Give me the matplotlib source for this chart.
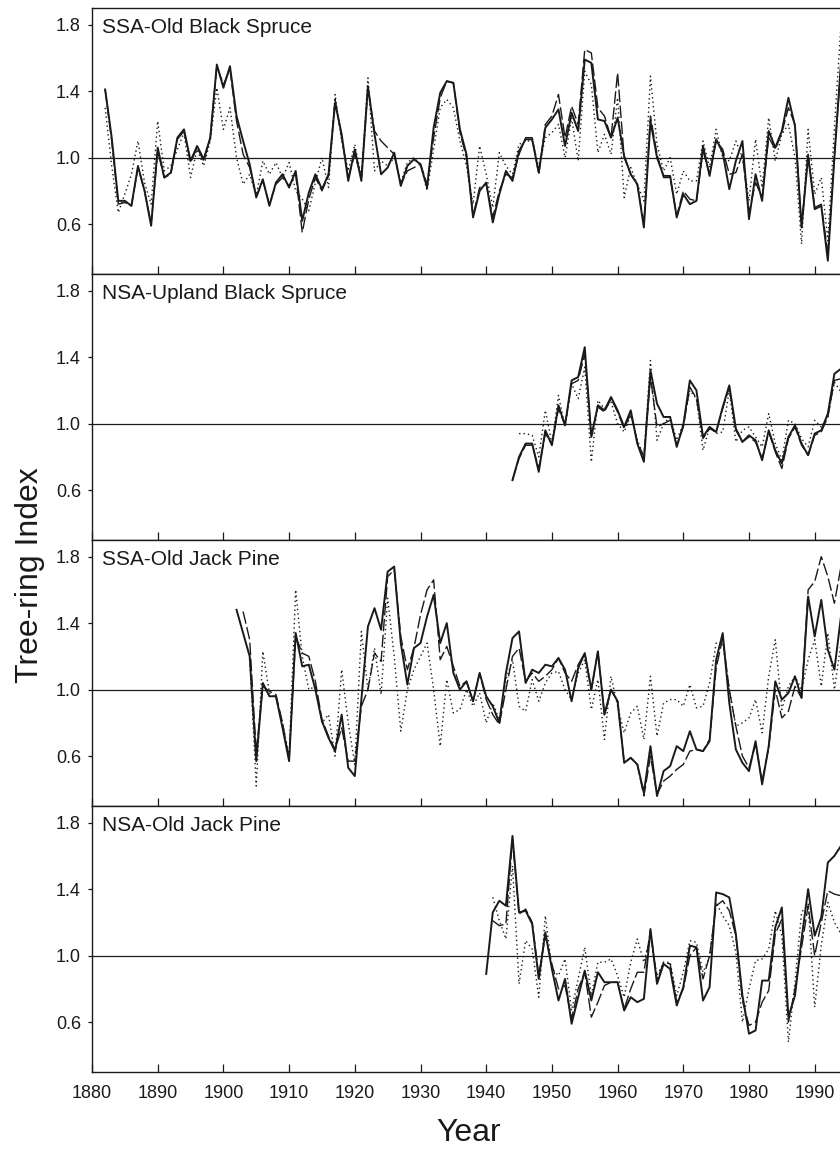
import matplotlib
matplotlib.use("Agg")
import matplotlib.pyplot as plt
import numpy as np

plt.rcParams['font.family'] = ['Liberation Sans', 'DejaVu Sans']

# ---- data (tree-ring index per year) ----
names = ["SSA-Old Black Spruce", "NSA-Upland Black Spruce",
         "SSA-Old Jack Pine", "NSA-Old Jack Pine"]

# SSA-Old Black Spruce, 1882-1994
ssa_obs_start = 1882
ssa_obs_solid = [1.41, 1.12, 0.74, 0.74, 0.71, 0.95, 0.80, 0.59, 1.06, 0.88,
                 0.91, 1.12, 1.17, 0.98, 1.07, 0.99, 1.12, 1.56, 1.42, 1.55,
                 1.25, 1.10, 0.96, 0.76, 0.87, 0.71, 0.85, 0.90, 0.82, 0.92,
                 0.62, 0.79, 0.90, 0.81, 0.90, 1.33, 1.14, 0.86, 1.05, 0.86,
                 1.43, 1.14, 0.90, 0.94, 1.03, 0.83, 0.95, 0.99, 0.96, 0.82,
                 1.18, 1.39, 1.46, 1.45, 1.17, 1.02, 0.64, 0.80, 0.85, 0.61,
                 0.78, 0.92, 0.86, 1.04, 1.11, 1.11, 0.91, 1.18, 1.23, 1.29,
                 1.07, 1.27, 1.16, 1.59, 1.57, 1.23, 1.22, 1.12, 1.24, 1.01,
                 0.90, 0.84, 0.58, 1.22, 1.00, 0.89, 0.89, 0.64, 0.78, 0.72,
                 0.74, 1.07, 0.89, 1.11, 1.03, 0.81, 0.98, 1.10, 0.63, 0.90,
                 0.74, 1.16, 1.06, 1.16, 1.36, 1.19, 0.58, 1.01, 0.69, 0.71,
                 0.38, 1.00, 1.57]
ssa_obs_dash = [1.41, 1.10, 0.72, 0.73, 0.71, 0.94, 0.80, 0.60, 1.04, 0.88,
                0.90, 1.11, 1.16, 0.97, 1.06, 0.98, 1.12, 1.55, 1.44, 1.53,
                1.22, 1.02, 0.94, 0.77, 0.86, 0.72, 0.84, 0.88, 0.83, 0.90,
                0.55, 0.75, 0.88, 0.80, 0.89, 1.35, 1.12, 0.88, 1.02, 0.88,
                1.42, 1.16, 1.10, 1.06, 1.02, 0.84, 0.92, 0.94, 0.96, 0.84,
                1.12, 1.36, 1.46, 1.45, 1.15, 1.00, 0.65, 0.82, 0.84, 0.64,
                0.80, 0.90, 0.88, 1.02, 1.12, 1.12, 0.90, 1.20, 1.25, 1.38,
                1.12, 1.31, 1.20, 1.65, 1.63, 1.30, 1.25, 1.12, 1.51, 1.00,
                0.90, 0.84, 0.60, 1.25, 1.02, 0.88, 0.88, 0.65, 0.80, 0.75,
                0.74, 1.04, 0.90, 1.10, 1.05, 0.90, 0.91, 1.02, 0.67, 0.85,
                0.76, 1.12, 1.05, 1.15, 1.30, 1.20, 0.58, 1.02, 0.70, 0.72,
                0.42, 1.02, 1.55]
ssa_obs_dot = [1.30, 0.95, 0.67, 0.78, 0.90, 1.10, 0.85, 0.72, 1.22, 0.92,
               0.95, 1.05, 1.15, 0.88, 1.05, 0.95, 1.10, 1.42, 1.17, 1.30,
               1.00, 0.84, 0.90, 0.77, 0.98, 0.90, 0.97, 0.88, 0.97, 0.80,
               0.75, 0.68, 0.85, 1.00, 0.82, 1.38, 1.10, 0.92, 1.08, 0.88,
               1.48, 0.92, 0.98, 0.95, 1.00, 0.85, 0.97, 1.00, 0.96, 0.80,
               1.05, 1.30, 1.35, 1.30, 1.10, 0.95, 0.72, 1.07, 0.90, 0.70,
               1.03, 0.95, 0.90, 1.08, 1.10, 1.10, 0.94, 1.12, 1.15, 1.20,
               1.00, 1.24, 0.98, 1.52, 1.44, 1.03, 1.14, 1.02, 1.36, 0.76,
               0.94, 0.84, 0.74, 1.49, 1.08, 0.92, 1.00, 0.78, 0.92, 0.86,
               0.86, 1.10, 0.94, 1.17, 1.00, 0.98, 1.10, 1.00, 0.74, 1.11,
               0.82, 1.24, 0.98, 1.14, 1.20, 1.00, 0.48, 1.17, 0.78, 0.88,
               0.50, 1.18, 1.80]

# NSA-Upland Black Spruce, 1944-1994
nsa_ubs_start = 1944
nsa_ubs_solid = [0.66, 0.80, 0.88, 0.88, 0.71, 0.96, 0.87, 1.11, 0.99, 1.26,
                 1.28, 1.46, 0.92, 1.11, 1.08, 1.16, 1.08, 0.98, 1.08, 0.88,
                 0.77, 1.32, 1.12, 1.04, 1.04, 0.86, 0.99, 1.26, 1.20, 0.92,
                 0.98, 0.95, 1.10, 1.23, 0.97, 0.89, 0.93, 0.90, 0.78, 0.96,
                 0.84, 0.76, 0.92, 0.99, 0.88, 0.81, 0.94, 0.96, 1.06, 1.30,
                 1.33]
nsa_ubs_dash = [0.66, 0.79, 0.87, 0.87, 0.73, 0.94, 0.88, 1.09, 0.99, 1.24,
                1.26, 1.42, 0.93, 1.10, 1.07, 1.15, 1.07, 0.97, 1.06, 0.89,
                0.80, 1.28, 0.98, 1.00, 1.02, 0.87, 0.98, 1.22, 1.15, 0.91,
                0.97, 0.95, 1.09, 1.22, 0.96, 0.89, 0.92, 0.89, 0.79, 0.95,
                0.83, 0.73, 0.91, 0.98, 0.87, 0.81, 0.93, 0.95, 1.04, 1.26,
                1.27]
nsa_ubs_dot = [None, 0.94, 0.94, 0.93, 0.80, 1.08, 0.88, 1.17, 0.98, 1.24,
               1.15, 1.34, 0.77, 1.14, 1.09, 1.13, 1.00, 0.95, 1.05, 0.90,
               0.80, 1.38, 0.90, 1.00, 1.04, 0.90, 1.00, 1.20, 1.15, 0.84,
               0.98, 0.94, 0.95, 1.20, 0.89, 0.96, 0.98, 0.92, 0.86, 1.06,
               0.88, 0.78, 1.02, 1.00, 0.91, 0.86, 1.02, 0.98, 1.04, 1.25,
               1.19]

# SSA-Old Jack Pine, 1902-1994
ssa_ojp_start = 1902
ssa_ojp_solid = [1.48, 1.34, 1.20, 0.57, 1.04, 0.96, 0.96, 0.77, 0.57, 1.34,
                 1.14, 1.15, 1.00, 0.81, 0.71, 0.63, 0.85, 0.53, 0.48, 0.94,
                 1.38, 1.49, 1.36, 1.71, 1.74, 1.28, 1.03, 1.25, 1.28, 1.44,
                 1.57, 1.28, 1.40, 1.10, 1.00, 1.05, 0.93, 1.10, 0.96, 0.90,
                 0.80, 1.10, 1.31, 1.35, 1.04, 1.12, 1.10, 1.15, 1.14, 1.19,
                 1.12, 0.93, 1.13, 1.22, 1.00, 1.23, 0.85, 1.00, 0.93, 0.56,
                 0.59, 0.55, 0.38, 0.66, 0.36, 0.51, 0.54, 0.66, 0.63, 0.75,
                 0.64, 0.63, 0.69, 1.18, 1.34, 0.92, 0.64, 0.56, 0.51, 0.69,
                 0.43, 0.66, 1.05, 0.94, 0.98, 1.08, 0.95, 1.56, 1.32, 1.54,
                 1.24, 1.12, 1.44]
ssa_ojp_dash = [None, 1.47, 1.30, 0.62, 1.02, 0.99, 0.97, 0.80, 0.58, 1.32,
                1.22, 1.20, 1.05, 0.82, 0.72, 0.64, 0.77, 0.57, 0.57, 0.90,
                1.00, 1.22, 1.17, 1.68, 1.72, 1.32, 1.12, 1.25, 1.45, 1.60,
                1.66, 1.18, 1.26, 1.14, 1.02, 1.05, 0.93, 1.10, 0.94, 0.85,
                0.79, 1.00, 1.20, 1.25, 1.05, 1.10, 1.05, 1.08, 1.12, 1.19,
                1.10, 1.05, 1.15, 1.22, 1.00, 1.23, 0.85, 1.00, 0.93, 0.56,
                0.59, 0.55, 0.36, 0.60, 0.37, 0.45, 0.48, 0.52, 0.55, 0.63,
                0.64, 0.63, 0.70, 1.13, 1.31, 1.00, 0.78, 0.60, 0.53, 0.67,
                0.45, 0.65, 1.00, 0.83, 0.87, 1.02, 0.95, 1.60, 1.65, 1.80,
                1.68, 1.52, 1.74]
ssa_ojp_dot = [None, None, 1.20, 0.42, 1.23, 0.98, 0.95, 0.80, 0.60, 1.60,
               1.20, 1.00, 1.02, 0.80, 0.85, 0.60, 1.12, 0.80, 0.55, 1.35,
               1.00, 1.25, 0.97, 1.55, 1.20, 0.75, 1.00, 1.12, 1.20, 1.28,
               1.00, 0.66, 1.06, 0.86, 0.88, 1.00, 0.90, 0.98, 0.80, 0.92,
               0.82, 1.06, 1.18, 0.90, 0.87, 1.06, 0.93, 1.04, 1.10, 1.11,
               1.00, 0.94, 1.10, 1.18, 0.88, 1.06, 0.70, 1.08, 0.90, 0.74,
               0.86, 0.90, 0.70, 1.08, 0.72, 0.92, 0.94, 0.94, 0.90, 1.03,
               0.89, 0.90, 1.04, 1.28, 1.28, 1.00, 0.78, 0.80, 0.83, 0.94,
               0.74, 1.08, 1.30, 0.88, 1.02, 1.08, 1.00, 1.18, 1.30, 1.02,
               1.34, 1.00, 1.28]

# NSA-Old Jack Pine, 1940-1994
nsa_ojp_start = 1940
nsa_ojp_solid = [0.89, 1.26, 1.33, 1.30, 1.72, 1.26, 1.27, 1.19, 0.86, 1.14,
                 0.92, 0.73, 0.86, 0.59, 0.75, 0.91, 0.73, 0.90, 0.84, 0.84,
                 0.84, 0.67, 0.75, 0.72, 0.74, 1.16, 0.83, 0.95, 0.92, 0.70,
                 0.81, 1.06, 1.05, 0.73, 0.81, 1.38, 1.37, 1.35, 1.13, 0.76,
                 0.53, 0.55, 0.85, 0.85, 1.17, 1.29, 0.63, 0.76, 1.10, 1.40,
                 1.12, 1.23, 1.56, 1.60, 1.66]
nsa_ojp_dash = [None, 1.21, 1.18, 1.19, 1.70, 1.25, 1.28, 1.20, 0.88, 1.12,
                0.95, 0.80, 0.82, 0.62, 0.80, 0.90, 0.63, 0.72, 0.82, 0.84,
                0.84, 0.68, 0.80, 0.90, 0.90, 1.15, 0.85, 0.96, 0.95, 0.72,
                0.80, 1.00, 1.05, 0.86, 1.00, 1.30, 1.33, 1.27, 1.12, 0.73,
                0.58, 0.60, 0.72, 0.79, 1.13, 1.22, 0.60, 0.80, 1.05, 1.30,
                1.00, 1.20, 1.39, 1.37, 1.36]
nsa_ojp_dot = [None, 1.35, 1.21, 1.10, 1.54, 0.83, 1.09, 1.04, 0.75, 1.24,
               0.92, 0.88, 0.98, 0.67, 0.86, 1.05, 0.76, 0.96, 0.96, 0.98,
               0.88, 0.75, 0.96, 1.10, 0.96, 1.12, 0.88, 0.96, 0.96, 0.76,
               0.90, 1.09, 1.08, 0.90, 0.99, 1.32, 1.24, 1.18, 1.02, 0.60,
               0.80, 0.97, 0.98, 1.04, 1.27, 1.12, 0.48, 0.84, 1.26, 1.31,
               0.69, 1.06, 1.32, 1.20, 1.13]

panels = [
    (ssa_obs_start, ssa_obs_solid, ssa_obs_dash, ssa_obs_dot),
    (nsa_ubs_start, nsa_ubs_solid, nsa_ubs_dash, nsa_ubs_dot),
    (ssa_ojp_start, ssa_ojp_solid, ssa_ojp_dash, ssa_ojp_dot),
    (nsa_ojp_start, nsa_ojp_solid, nsa_ojp_dash, nsa_ojp_dot),
]

yticks = [0.6, 1.0, 1.4, 1.8]
xticks = list(range(1880, 2000, 10))


def to_arr(vals):
    return np.array([np.nan if v is None else v for v in vals], dtype=float)


W, H = 840, 1150
fig = plt.figure(figsize=(W / 100, H / 100), dpi=100)

left_px = 92
px_per_year = 6.57
x0, x1 = 1880, 1995
width_px = (x1 - x0) * px_per_year
top_px = 8
panel_h = 266

ink = '#1a1a1a'
for i, (name, (start, solid, dash, dot)) in enumerate(zip(names, panels)):
    top = top_px + i * panel_h
    ax = fig.add_axes([left_px / W, 1 - (top + panel_h) / H,
                       width_px / W, panel_h / H])
    yrs = np.arange(start, start + len(solid))
    ax.axhline(1.0, color=ink, lw=0.9, zorder=1)
    ax.plot(yrs, to_arr(dot), color=ink, lw=1.0, ls=(0, (1, 2.2)), zorder=2)
    ax.plot(yrs, to_arr(dash), color=ink, lw=1.0, ls=(0, (9, 2.5)), zorder=3)
    ax.plot(yrs, to_arr(solid), color=ink, lw=1.4, zorder=4)

    ax.set_xlim(x0, x1)
    ax.set_ylim(0.3, 1.9)
    ax.set_yticks(yticks)
    ax.set_yticklabels([f"{v:.1f}" for v in yticks])
    ax.set_xticks(xticks)
    ax.tick_params(axis='x', direction='in', length=6, width=0.9, pad=9,
                   labelsize=13, colors=ink)
    ax.tick_params(axis='y', direction='out', length=3, width=0.9, pad=5,
                   labelsize=13, colors=ink)
    if i < 3:
        ax.tick_params(axis='x', labelbottom=False)
    for s in ax.spines.values():
        s.set_linewidth(1.0)
        s.set_color(ink)
    ax.text(10 / width_px, 1 - 10 / panel_h, name, transform=ax.transAxes,
            ha='left', va='top', fontsize=15, color=ink)

fig.text(30 / W, 0.5, 'Tree-ring Index', rotation=90, ha='center',
         va='center', fontsize=23, color=ink)
fig.text(469 / W, 1 - 1133 / H, 'Year', ha='center', va='center',
         fontsize=23, color=ink)

fig.savefig('out.png', dpi=100)
